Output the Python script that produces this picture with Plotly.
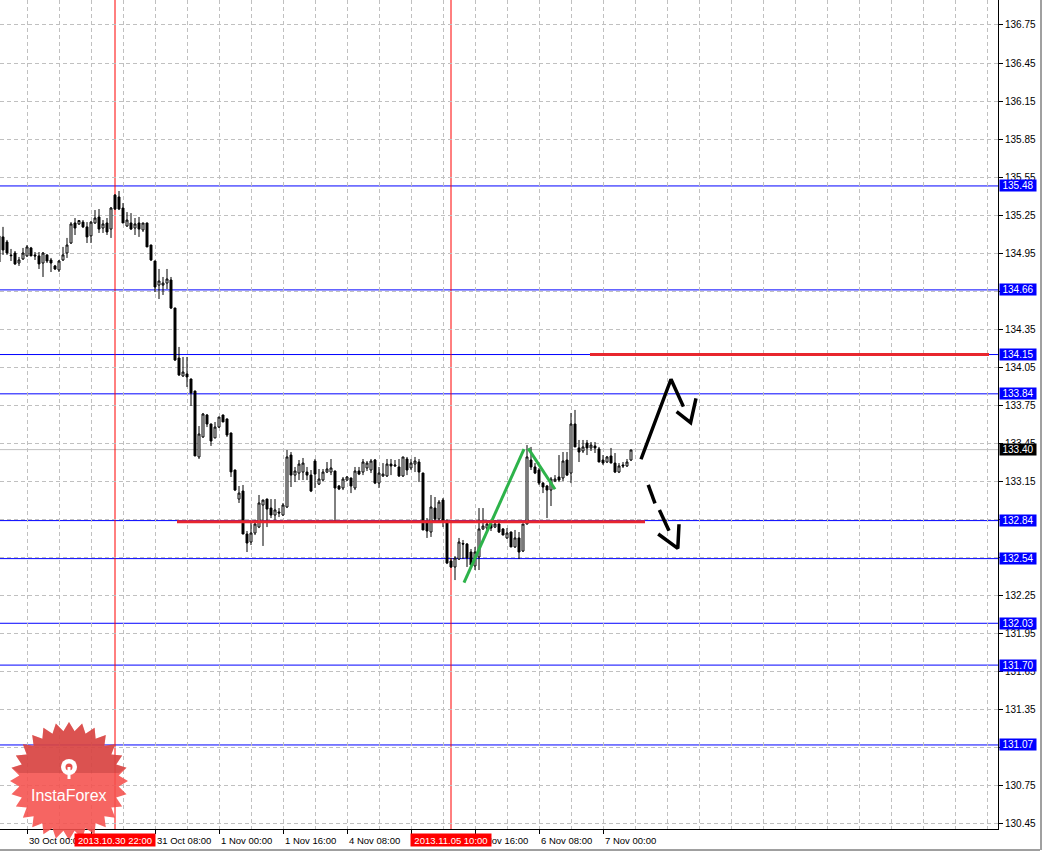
import math
import plotly.graph_objects as go

# ---------------- data (H1 bars; bar index 0 = 2013.10.30 00:00) ----------------
FIRST_BAR = -7

OPEN = [
    135.086, 135.078, 135.038, 134.935, 134.951, 134.872, 134.904,
    134.928, 134.991, 134.936, 134.928, 134.872, 134.936, 134.896, 134.849, 134.817, 134.896,
    134.951, 135.030, 135.188, 135.180, 135.195, 135.157, 135.086, 135.188, 135.235, 135.148,
    135.188, 135.140, 135.408, 135.393, 135.306, 135.164, 135.188, 135.148, 135.188, 135.133,
    135.188, 135.014, 134.888, 134.698, 134.698, 134.714, 134.738, 134.517, 134.123, 133.981,
    133.997, 133.957, 133.862, 133.342, 133.500, 133.673, 133.602, 133.492, 133.578, 133.673,
    133.642, 133.531, 133.239, 133.010, 133.073, 132.734, 132.671, 132.742, 132.789, 132.963,
    133.010, 132.939, 132.884, 132.908, 132.884, 132.947, 133.357, 133.199, 133.215, 133.223,
    133.223, 133.199, 133.310, 133.128, 133.160, 133.223, 133.223, 133.231, 133.113, 133.097,
    133.160, 133.176, 133.097, 133.231, 133.223, 133.255, 133.239, 133.318, 133.136, 133.192,
    133.192, 133.286, 133.271, 133.263, 133.192, 133.326, 133.255, 133.286, 133.302, 133.215,
    132.829, 132.750, 132.939, 132.853, 133.002, 132.837, 132.521, 132.474, 132.537, 132.660,
    132.655, 132.592, 132.482, 132.553, 132.774, 132.781, 132.813, 132.789, 132.813, 132.774,
    132.703, 132.750, 132.632, 132.703, 132.600, 132.813, 133.318, 133.263, 133.239, 133.136,
    133.113, 133.081, 133.152, 133.184, 133.176, 133.318, 133.215, 133.602, 133.413, 133.389,
    133.452, 133.413, 133.429, 133.405, 133.318, 133.302, 133.350, 133.294, 133.223, 133.279,
    133.271, 133.318,
]
HIGH = [
    135.148, 135.157, 135.054, 134.983, 134.967, 134.920, 134.991,
    135.014, 134.999, 134.959, 134.959, 134.959, 134.940, 134.912, 134.857, 134.896, 134.999,
    135.070, 135.195, 135.227, 135.211, 135.211, 135.195, 135.203, 135.290, 135.298, 135.211,
    135.227, 135.314, 135.416, 135.440, 135.345, 135.274, 135.266, 135.227, 135.235, 135.188,
    135.190, 135.016, 134.890, 134.825, 134.762, 134.825, 134.762, 134.519, 134.210, 134.131,
    134.131, 133.960, 133.865, 133.586, 133.689, 133.681, 133.605, 133.618, 133.657, 133.676,
    133.645, 133.534, 133.242, 133.113, 133.121, 132.758, 132.821, 132.845, 133.042, 133.005,
    133.013, 133.010, 133.010, 132.939, 132.979, 133.397, 133.381, 133.263, 133.318, 133.334,
    133.263, 133.239, 133.326, 133.247, 133.247, 133.302, 133.326, 133.234, 133.121, 133.184,
    133.192, 133.179, 133.263, 133.263, 133.326, 133.310, 133.326, 133.326, 133.263, 133.294,
    133.326, 133.326, 133.318, 133.326, 133.342, 133.342, 133.326, 133.342, 133.326, 133.218,
    132.860, 133.042, 133.026, 133.002, 133.018, 132.852, 132.545, 132.560, 132.703, 132.687,
    132.663, 132.616, 132.632, 132.939, 132.939, 132.829, 132.829, 132.845, 132.829, 132.781,
    132.781, 132.753, 132.766, 132.750, 132.813, 133.436, 133.421, 133.294, 133.255, 133.144,
    133.121, 133.184, 133.199, 133.357, 133.381, 133.381, 133.689, 133.713, 133.476, 133.476,
    133.476, 133.460, 133.460, 133.421, 133.357, 133.350, 133.413, 133.373, 133.294, 133.302,
    133.326, 133.400,
]
LOW = [
    134.754, 134.936, 134.936, 134.888, 134.857, 134.849, 134.896,
    134.920, 134.928, 134.896, 134.825, 134.762, 134.872, 134.801, 134.817, 134.801, 134.888,
    134.912, 135.022, 135.093, 135.172, 135.148, 135.030, 135.030, 135.180, 135.109, 135.109,
    135.093, 135.070, 135.290, 135.290, 135.188, 135.157, 135.133, 135.093, 135.078, 135.117,
    134.999, 134.888, 134.643, 134.588, 134.620, 134.667, 134.509, 134.099, 133.981, 133.973,
    133.894, 133.744, 133.350, 133.326, 133.492, 133.578, 133.429, 133.490, 133.570, 133.618,
    133.500, 133.184, 133.073, 132.979, 132.734, 132.592, 132.647, 132.726, 132.781, 132.640,
    132.789, 132.860, 132.845, 132.868, 132.876, 132.939, 133.105, 133.144, 133.160, 133.160,
    133.160, 133.065, 133.097, 133.121, 133.152, 133.215, 133.199, 132.837, 133.081, 133.081,
    133.152, 133.057, 133.081, 133.199, 133.199, 133.231, 133.215, 133.128, 133.097, 133.184,
    133.184, 133.199, 133.263, 133.184, 133.184, 133.199, 133.239, 133.223, 133.144, 132.766,
    132.703, 132.711, 132.837, 132.837, 132.789, 132.497, 132.466, 132.371, 132.529, 132.537,
    132.474, 132.474, 132.450, 132.450, 132.766, 132.766, 132.758, 132.781, 132.742, 132.726,
    132.695, 132.632, 132.624, 132.537, 132.592, 132.810, 133.239, 133.207, 133.121, 133.057,
    132.860, 132.955, 133.144, 133.144, 133.152, 133.192, 133.136, 133.421, 133.302, 133.373,
    133.357, 133.389, 133.373, 133.302, 133.279, 133.294, 133.294, 133.215, 133.215, 133.255,
    133.263, 133.310,
]
CLOSE = [
    134.880, 134.975, 134.951, 134.930, 134.865, 134.896, 134.951,
    134.999, 134.928, 134.928, 134.865, 134.951, 134.888, 134.872, 134.825, 134.888, 134.936,
    135.014, 135.180, 135.148, 135.207, 135.157, 135.078, 135.195, 135.227, 135.140, 135.180,
    135.117, 135.306, 135.298, 135.298, 135.188, 135.211, 135.140, 135.180, 135.140, 135.188,
    134.999, 134.896, 134.683, 134.730, 134.714, 134.746, 134.517, 134.107, 133.989, 134.012,
    133.973, 133.847, 133.350, 133.523, 133.681, 133.602, 133.468, 133.578, 133.657, 133.618,
    133.515, 133.224, 133.081, 133.057, 132.734, 132.663, 132.742, 132.813, 132.979, 133.002,
    132.931, 132.884, 132.924, 132.900, 132.963, 133.342, 133.199, 133.231, 133.286, 133.294,
    133.199, 133.073, 133.207, 133.168, 133.223, 133.247, 133.255, 133.097, 133.089, 133.168,
    133.184, 133.113, 133.231, 133.207, 133.302, 133.294, 133.310, 133.136, 133.215, 133.207,
    133.286, 133.271, 133.278, 133.192, 133.342, 133.239, 133.294, 133.310, 133.223, 132.766,
    132.758, 132.947, 132.853, 132.986, 132.829, 132.505, 132.474, 132.545, 132.671, 132.655,
    132.545, 132.490, 132.592, 132.774, 132.797, 132.813, 132.781, 132.813, 132.750, 132.726,
    132.742, 132.632, 132.703, 132.592, 132.813, 133.342, 133.263, 133.215, 133.136, 133.105,
    133.081, 133.168, 133.168, 133.160, 133.310, 133.199, 133.602, 133.421, 133.381, 133.421,
    133.413, 133.436, 133.413, 133.302, 133.294, 133.342, 133.294, 133.223, 133.271, 133.271,
    133.302, 133.397,
]

BID = 133.40
BLUE_LEVELS = [135.48, 134.66, 134.15, 133.84, 132.84, 132.54, 132.03, 131.70, 131.07]
RED_SEGMENTS = [(140.75, 240.5, 134.15), (37.5, 154.5, 132.83)]
VLINE_BARS = [22, 106]
VLINE_TEXT = ["2013.10.30 22:00", "2013.11.05 10:00"]

GREEN_X = [109.25, 124.25, None, 125.3, 132.0]
GREEN_Y = [132.35, 133.403, None, 133.41, 133.087]
UP_ARROW_X = [153.5, 161.0, 164.1, None, 162.4, 165.9, 167.25]
UP_ARROW_Y = [133.324, 133.955, 133.739, None, 133.699, 133.612, 133.805]
DN_ARROW_X = [155.3, 157.0, None, 158.1, 160.5, None, 157.8, 162.7, 163.0]
DN_ARROW_Y = [133.121, 132.976, None, 132.924, 132.760, None, 132.734, 132.621, 132.811]

TIME_TICKS = [-16, 0, 16, 32, 48, 64, 80, 96, 112, 128, 144]
TIME_LABELS = ["29 Oct 08:00", "30 Oct 00:00", "", "31 Oct 08:00", "1 Nov 00:00",
               "1 Nov 16:00", "4 Nov 08:00", "", "5 Nov 16:00", "6 Nov 08:00",
               "7 Nov 00:00"]
PRICE_TICKS = [136.75, 136.45, 136.15, 135.85, 135.55, 135.25, 134.95, 134.65, 134.35, 134.05,
               133.75, 133.45, 133.15, 132.85, 132.55, 132.25, 131.95, 131.65, 131.35, 131.05,
               130.75, 130.45]
HIDDEN_PRICE_LABELS = [134.65, 132.85, 132.55, 131.05]

# ---------------- layout geometry ----------------
W, H = 1043, 852
ML, MR, MT, MB = 0, 45, 0, 23
PW, PH = W - ML - MR, H - MT - MB
X_RANGE = [-6.75, 242.75]
Y_RANGE = [130.407, 136.947]
FONT = "Liberation Sans, Arial, sans-serif"
GRID = "#c0c0c0"
BLUE = "#0000ff"
RED = "#ff0000"

bars = list(range(FIRST_BAR, FIRST_BAR + len(OPEN)))

fig = go.Figure()
fig.add_trace(go.Candlestick(
    x=bars, open=OPEN, high=HIGH, low=LOW, close=CLOSE,
    increasing=dict(line=dict(color="black", width=1), fillcolor="white"),
    decreasing=dict(line=dict(color="black", width=1), fillcolor="black"),
    whiskerwidth=0, hoverinfo="skip", showlegend=False,
))
fig.add_trace(go.Scatter(x=GREEN_X, y=GREEN_Y, mode="lines",
                         line=dict(color="#2db34a", width=3), showlegend=False, hoverinfo="skip"))
fig.add_trace(go.Scatter(x=UP_ARROW_X, y=UP_ARROW_Y, mode="lines",
                         line=dict(color="black", width=3.5), showlegend=False, hoverinfo="skip"))
fig.add_trace(go.Scatter(x=DN_ARROW_X, y=DN_ARROW_Y, mode="lines",
                         line=dict(color="black", width=3.5), showlegend=False, hoverinfo="skip"))

shapes = []
for lv in BLUE_LEVELS:
    shapes.append(dict(type="line", xref="paper", x0=0, x1=1, yref="y", y0=lv, y1=lv,
                       line=dict(color=BLUE, width=1), layer="below"))
shapes.append(dict(type="line", xref="paper", x0=0, x1=1, yref="y", y0=BID, y1=BID,
                   line=dict(color="#c0c0c0", width=1), layer="below"))
for b in VLINE_BARS:
    shapes.append(dict(type="line", xref="x", x0=b, x1=b, yref="paper", y0=0, y1=1,
                       line=dict(color=RED, width=1), layer="below"))
for x0, x1, lv in RED_SEGMENTS:
    shapes.append(dict(type="line", xref="x", x0=x0, x1=x1, yref="y", y0=lv, y1=lv,
                       line=dict(color="#e8262d", width=3), layer="above"))

# window frame bits outside the plot
shapes.append(dict(type="line", xref="paper", yref="paper", x0=0, x1=1040 / PW,
                   y0=-(850 - PH) / PH, y1=-(850 - PH) / PH, line=dict(color="#404040", width=1)))
shapes.append(dict(type="line", xref="paper", yref="paper", x0=1041 / PW, x1=1041 / PW,
                   y0=-(850 - PH) / PH, y1=1, line=dict(color="#a0a0a0", width=2)))


def pp(x, y):
    return x / PW, (PH - y) / PH


# InstaForex badge (decoration)
cx, cy, ro, ri, n = 69, 781, 59, 50, 28
star = []
for k in range(2 * n):
    r = ro if k % 2 == 0 else ri
    a = -math.pi / 2 + k * math.pi / n
    star.append((cx + r * math.cos(a), cy + r * math.sin(a)))
path = "M " + " L ".join("%.5f,%.5f" % pp(x, y) for x, y in star) + " Z"
shapes.append(dict(type="path", xref="paper", yref="paper", path=path,
                   fillcolor="rgba(245,80,76,0.88)", line=dict(width=0), layer="above"))
upper = [(x, y) for x, y in star if y <= cy - 8]
upper = [(cx - ri, cy - 8)] + sorted(upper, key=lambda p: math.atan2(p[1] - cy, p[0] - cx)) + [(cx + ri, cy - 8)]
path2 = "M " + " L ".join("%.5f,%.5f" % pp(x, y) for x, y in upper) + " Z"
shapes.append(dict(type="path", xref="paper", yref="paper", path=path2,
                   fillcolor="rgba(170,50,50,0.35)", line=dict(width=0), layer="above"))
gx0, gy0 = pp(61, 759)
gx1, gy1 = pp(77, 775)
shapes.append(dict(type="circle", xref="paper", yref="paper", x0=gx0, x1=gx1, y0=gy1, y1=gy0,
                   fillcolor="white", line=dict(width=0), layer="above"))
hx0, hy0 = pp(65.5, 763.5)
hx1, hy1 = pp(72.5, 770.5)
shapes.append(dict(type="circle", xref="paper", yref="paper", x0=hx0, x1=hx1, y0=hy1, y1=hy0,
                   fillcolor="#e8504c", line=dict(width=0), layer="above"))
sx, sy0 = pp(69, 767)
_, sy1 = pp(69, 779)
shapes.append(dict(type="line", xref="paper", yref="paper", x0=sx, x1=sx, y0=sy0, y1=sy1,
                   line=dict(color="white", width=3), layer="above"))

annotations = []
for pos, txt in zip(TIME_TICKS, TIME_LABELS):
    if txt:
        annotations.append(dict(x=pos, xref="x", y=0, yref="paper", yshift=-11, text=txt,
                                showarrow=False, xanchor="left", yanchor="middle",
                                font=dict(family=FONT, size=9.5, color="black")))
for b, txt in zip(VLINE_BARS, VLINE_TEXT):
    annotations.append(dict(x=b, xref="x", y=0, yref="paper", yshift=-11, text=txt,
                            showarrow=False, xanchor="center", yanchor="middle",
                            bgcolor=RED, width=80, height=12, borderpad=0,
                            font=dict(family=FONT, size=9.5, color="white")))
for lv in BLUE_LEVELS:
    annotations.append(dict(x=1, xref="paper", xshift=1, y=lv, yref="y", text="%.2f" % lv,
                            showarrow=False, xanchor="left", yanchor="middle",
                            bgcolor=BLUE, width=36, height=11, borderpad=0,
                            font=dict(family=FONT, size=10, color="white")))
annotations.append(dict(x=1, xref="paper", xshift=1, y=BID, yref="y", text="%.2f" % BID,
                        showarrow=False, xanchor="left", yanchor="middle",
                        bgcolor="black", width=36, height=11, borderpad=0,
                        font=dict(family=FONT, size=10, color="white")))
tx, ty = pp(69, 795)
annotations.append(dict(x=tx, y=ty, xref="paper", yref="paper", text="InstaForex",
                        showarrow=False, xanchor="center", yanchor="middle",
                        font=dict(family=FONT, size=16, color="white")))

fig.update_layout(
    width=W, height=H, margin=dict(l=ML, r=MR, t=MT, b=MB, pad=0),
    paper_bgcolor="white", plot_bgcolor="white", showlegend=False,
    shapes=shapes, annotations=annotations,
    font=dict(family=FONT, size=10, color="black"),
    xaxis=dict(range=X_RANGE, type="linear", rangeslider=dict(visible=False),
               tickmode="array", tickvals=TIME_TICKS, showticklabels=False,
               ticks="outside", ticklen=4, tickcolor="black",
               showgrid=True, gridcolor=GRID, griddash="4px,3px", gridwidth=1,
               minor=dict(tickmode="array", tickvals=list(range(-8, 241, 8)), showgrid=True,
                          gridcolor=GRID, griddash="4px,3px", gridwidth=1, ticks=""),
               showline=True, linecolor="black", linewidth=1, zeroline=False, fixedrange=True),
    yaxis=dict(range=Y_RANGE, side="right", tickmode="array", tickvals=PRICE_TICKS,
               ticktext=["" if v in HIDDEN_PRICE_LABELS else "%.2f" % v for v in PRICE_TICKS],
               ticks="outside", ticklen=4, tickcolor="black",
               showgrid=True, gridcolor=GRID, griddash="4px,3px", gridwidth=1,
               showline=True, linecolor="black", linewidth=1, zeroline=False, fixedrange=True,
               tickfont=dict(family=FONT, size=10, color="black")),
)

fig.write_html("out.html", config={"displayModeBar": False},
               post_script="document.body.style.margin='0';document.body.style.overflow='hidden';")
